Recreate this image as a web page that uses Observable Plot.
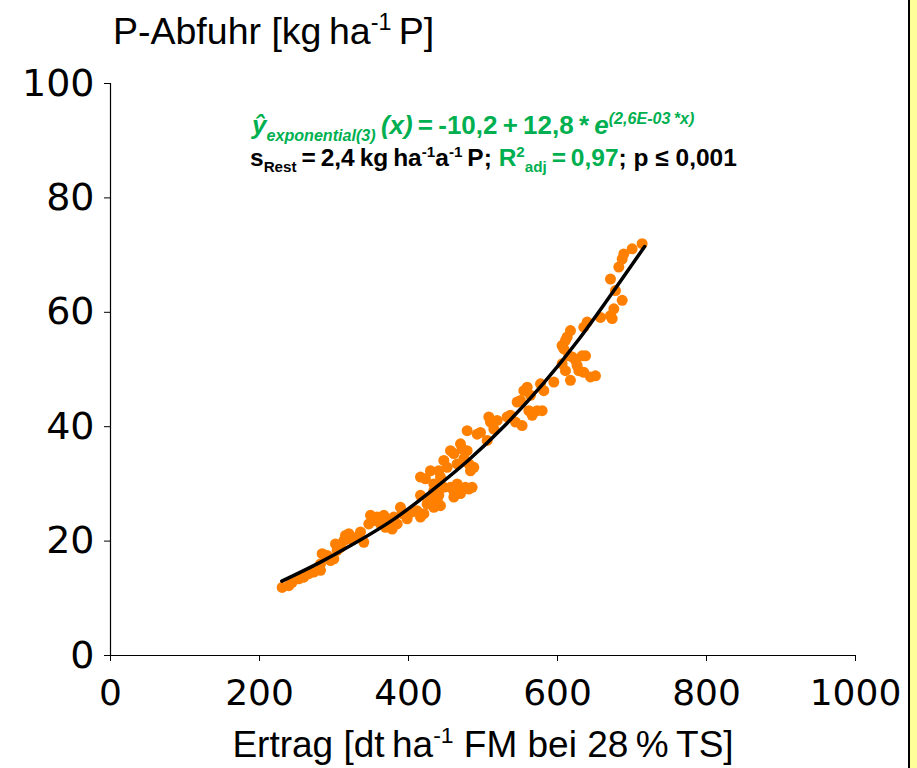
<!DOCTYPE html>
<html>
<head>
<meta charset="utf-8">
<script src="https://cdn.jsdelivr.net/npm/d3@7"></script>
<script src="https://cdn.jsdelivr.net/npm/@observablehq/plot@0.6"></script>
<style>
  html, body { margin: 0; padding: 0; background: #fff; }
  #chart { position: relative; width: 917px; height: 768px; overflow: hidden; }
</style>
</head>
<body>
<div id="chart"></div>
<script>
// Observed values: Ertrag (dt/ha FM) and P-Abfuhr (kg/ha P)
const ertrag = [230.4,239.4,243.8,252.8,259.5,266.2,272.9,281.9,281.9,284.1,290.8,295.3,299.8,302.0,304.2,308.7,313.2,315.4,319.9,322.1,331.1,340.0,335.6,346.7,349.0,353.5,357.9,362.4,366.9,369.1,373.6,378.1,380.3,384.8,389.2,391.5,398.2,404.9,411.6,416.1,420.6,416.1,425.0,429.5,434.0,438.5,442.9,416.1,422.8,429.5,434.0,440.7,442.9,447.4,451.9,456.4,460.8,465.3,469.8,472.0,474.3,478.7,481.0,483.2,487.7,460.8,465.3,469.8,476.5,481.0,485.4,434.0,440.7,447.4,456.4,460.8,478.7,492.1,496.6,505.6,507.8,510.0,514.5,519.0,532.4,536.9,545.8,550.3,543.6,552.5,554.8,559.3,563.7,561.5,566.0,572.7,579.4,577.2,581.6,595.1,606.2,610.7,606.2,610.7,613.0,617.4,608.5,615.2,619.7,624.1,626.4,628.6,633.1,635.3,637.6,617.4,644.3,651.0,635.3,639.8,657.7,671.1,673.4,675.6,686.8,677.8,671.1,682.3,686.8,689.0,700.2,713.6];
const pAbfuhr = [11.9,12.2,12.8,13.4,13.7,14.3,14.6,14.9,16.0,17.8,17.5,16.6,16.9,19.5,18.4,18.9,20.1,21.0,21.3,20.4,20.7,19.8,21.6,23.0,24.5,23.6,24.2,23.0,24.5,22.4,23.6,22.1,24.2,23.0,25.9,24.8,23.9,25.1,25.3,24.2,24.8,28.0,26.5,27.7,25.9,27.1,26.2,31.2,30.9,32.3,30.0,32.3,31.2,34.1,32.9,35.8,35.3,33.5,37.0,36.1,34.4,35.8,33.5,32.3,32.9,28.8,30.0,28.3,29.4,29.1,29.4,28.8,28.0,29.4,29.4,27.7,39.3,38.7,39.0,37.6,41.7,40.8,39.6,41.1,41.7,42.0,44.3,44.6,40.8,40.2,46.3,46.9,45.5,42.8,42.0,42.8,42.8,47.5,46.3,47.8,51.0,49.8,54.2,55.1,55.7,56.8,53.6,52.4,52.2,51.6,50.7,49.8,52.4,49.5,52.4,48.1,48.7,48.9,57.4,58.3,59.1,59.4,58.9,60.6,62.1,63.8,65.8,67.9,69.3,70.2,71.1,72.0];

// Fitted exponential curve
const fitX = [230, 280, 330, 380, 430, 480, 530, 580, 630, 680, 717];
const fitY = [13.0, 16.2, 19.8, 23.8, 28.7, 34.1, 40.3, 47.4, 55.5, 64.6, 71.5];

const xTicks = [0, 200, 400, 600, 800, 1000];
const yTicks = [0, 20, 40, 60, 80, 100];

const points = ertrag.map((x, i) => ({x, y: pAbfuhr[i]}));
const fit = fitX.map((x, i) => ({x, y: fitY[i]}));

const GREEN = "#00B050";
const ORANGE = "#FF8000";

const plot = Plot.plot({
  width: 917,
  height: 768,
  marginLeft: 110,
  marginRight: 62,
  marginTop: 83,
  marginBottom: 113,
  style: {fontFamily: "'DejaVu Sans', Verdana, sans-serif", fontSize: "36px", color: "#000", background: "transparent"},
  x: {domain: [0, 1000], ticks: xTicks},
  y: {domain: [0, 100], ticks: yTicks},
  marks: [
    Plot.axisX({ticks: xTicks, tickFormat: d => String(d), tickSize: 6, tickPadding: 18, label: null, stroke: "#000", fill: "#000", fontSize: 36}),
    Plot.axisY({ticks: yTicks, tickFormat: d => String(d), tickSize: 6, tickPadding: 10, label: null, stroke: "#000", fill: "#000", fontSize: 38}),
    Plot.ruleX([0], {stroke: "#000", strokeWidth: 1.2}),
    Plot.ruleY([0], {stroke: "#000", strokeWidth: 1.2}),
    Plot.dot(points, {x: "x", y: "y", r: 5.5, fill: ORANGE, stroke: "none"}),
    Plot.line(fit, {x: "x", y: "y", stroke: "#000", strokeWidth: 3.5, curve: "natural"})
  ]
});

document.getElementById("chart").appendChild(plot);

const svg = d3.select(plot);

// Yellow border strip on the right
svg.append("rect").attr("x", 910).attr("y", 0).attr("width", 7).attr("height", 768).attr("fill", "#FFFF99");
svg.append("rect").attr("x", 908).attr("y", 0).attr("width", 2).attr("height", 768).attr("fill", "#000");

function richText(x, y, size, segs, family, anchor) {
  const t = svg.append("text").attr("x", x).attr("y", y)
    .attr("font-family", family).attr("font-size", size)
    .attr("text-anchor", anchor || "start");
  let shift = 0;
  for (const s of segs) {
    const ts = t.append("tspan").text(s.t);
    let target = 0, fs = size;
    if (s.sup) { target = -size * 0.38; fs = size * 0.62; }
    if (s.sub) { target = size * 0.25; fs = size * 0.62; }
    ts.attr("dy", target - shift).attr("font-size", fs);
    shift = target;
    if (s.it) ts.attr("font-style", "italic");
    if (s.b) ts.attr("font-weight", "bold");
    if (s.c) ts.attr("fill", s.c);
  }
  return t;
}

const ARIAL = "'Liberation Sans', Arial, sans-serif";

// Y-axis title
richText(113, 44, 37.5, [
  {t: "P-Abfuhr [kg\u2009ha"}, {t: "-1", sup: true}, {t: "\u2009P]"}
], ARIAL);

// X-axis title
richText(483, 757, 37, [
  {t: "Ertrag [dt\u2009ha"}, {t: "-1", sup: true}, {t: " FM bei 28\u2009%\u2009TS]"}
], ARIAL, "middle");

// Regression annotation
richText(252, 134, 26, [
  {t: "\u0177", it: true, b: true, c: GREEN},
  {t: "exponential(3)", it: true, b: true, c: GREEN, sub: true},
  {t: "\u2009(x)", it: true, b: true, c: GREEN},
  {t: "\u2009=\u2009-10,2\u2009+\u200912,8\u2009*\u2009", b: true, c: GREEN},
  {t: "e", it: true, b: true, c: GREEN},
  {t: "(2,6E-03\u2009*x)", it: true, b: true, c: GREEN, sup: true}
], ARIAL);

richText(250, 166, 24.5, [
  {t: "s", b: true},
  {t: "Rest", b: true, sub: true},
  {t: "\u2009=\u20092,4\u2009kg\u2009ha", b: true},
  {t: "-1", b: true, sup: true},
  {t: "a", b: true},
  {t: "-1", b: true, sup: true},
  {t: "\u2009P; ", b: true},
  {t: "R", b: true, c: GREEN},
  {t: "2", b: true, c: GREEN, sup: true},
  {t: "adj", b: true, c: GREEN, sub: true},
  {t: "\u2009=\u20090,97", b: true, c: GREEN},
  {t: "; p \u2264 0,001", b: true}
], ARIAL);
</script>
</body>
</html>
